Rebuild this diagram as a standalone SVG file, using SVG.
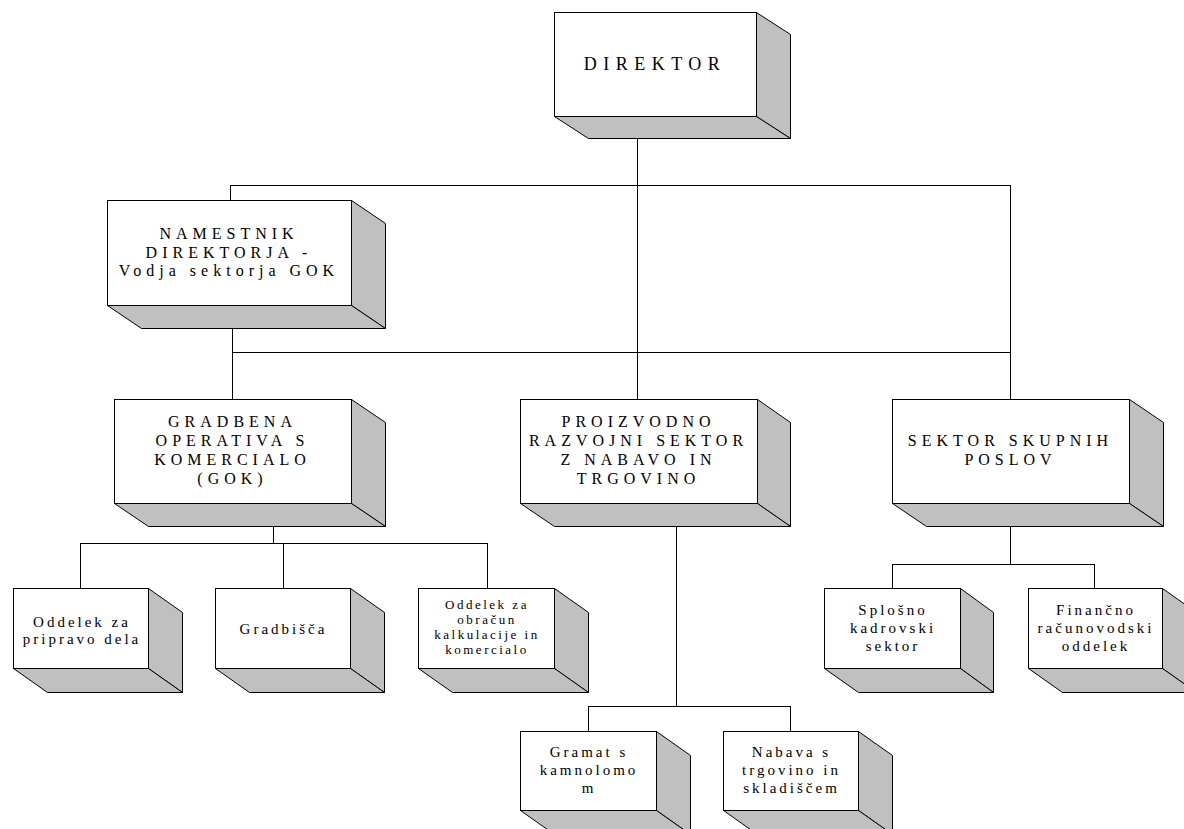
<svg xmlns="http://www.w3.org/2000/svg" width="1184" height="829" viewBox="0 0 1184 829">
<style>
.front{fill:#ffffff;stroke:#000;stroke-width:1}
.shade{fill:#c0c0c0;stroke:#000;stroke-width:1;stroke-linejoin:miter}
.conn{fill:none;stroke:#000;stroke-width:1}
text{font-family:"Liberation Serif","Times New Roman",serif;fill:#000;text-anchor:middle}
.t18{font-size:18px;letter-spacing:6.5px}
.t16{font-size:16px;letter-spacing:5px}
.t15{font-size:15px;letter-spacing:3px}
.t13{font-size:13px;letter-spacing:2.5px}
</style>
<rect width="1184" height="829" fill="#ffffff"/>
<g id="connectors">
<path class="conn" d="M637.5 138V399"/>
<path class="conn" d="M230.5 185.5H1010.5"/>
<path class="conn" d="M230.5 185V200"/>
<path class="conn" d="M232.5 352.5H1010.5"/>
<path class="conn" d="M232.5 328V399"/>
<path class="conn" d="M1010.5 185V399"/>
<path class="conn" d="M273.5 527V543.5"/>
<path class="conn" d="M80.5 543.5H487.5"/>
<path class="conn" d="M80.5 543V588M283.5 543V588M487.5 543V588"/>
<path class="conn" d="M676.5 527V706.5"/>
<path class="conn" d="M588.5 706.5H790.5"/>
<path class="conn" d="M588.5 706V731M790.5 706V731"/>
<path class="conn" d="M1010.5 527V564.5"/>
<path class="conn" d="M892.5 564.5H1094.5"/>
<path class="conn" d="M892.5 564V588M1094.5 564V588"/>
</g>
<g id="direktor">
<polygon class="shade" points="756.5,12.5 790.5,34.5 790.5,138.5 756.5,116.5"/>
<polygon class="shade" points="554.5,116.5 756.5,116.5 790.5,138.5 588.5,138.5"/>
<rect class="front" x="554.5" y="12.5" width="202" height="104"/>
<text class="t18" x="655" y="70">DIREKTOR</text>
</g>
<g id="namestnik">
<polygon class="shade" points="351.5,200.5 385.5,223.5 385.5,328.5 351.5,305.5"/>
<polygon class="shade" points="107.5,305.5 351.5,305.5 385.5,328.5 141.5,328.5"/>
<rect class="front" x="107.5" y="200.5" width="244" height="105"/>
<text class="t16" x="229" y="239">NAMESTNIK</text>
<text class="t16" x="229" y="257.5">DIREKTORJA -</text>
<text class="t16" x="229" y="276">Vodja sektorja GOK</text>
</g>
<g id="gok">
<polygon class="shade" points="351.5,399.5 385.5,422.5 385.5,526.5 351.5,503.5"/>
<polygon class="shade" points="114.5,503.5 351.5,503.5 385.5,526.5 148.5,526.5"/>
<rect class="front" x="114.5" y="399.5" width="237" height="104"/>
<text class="t16" x="232.5" y="427">GRADBENA</text>
<text class="t16" x="232.5" y="446">OPERATIVA S</text>
<text class="t16" x="232.5" y="465">KOMERCIALO</text>
<text class="t16" x="232.5" y="484">(GOK)</text>
</g>
<g id="proizvodno">
<polygon class="shade" points="757.5,399.5 790.5,422.5 790.5,526.5 757.5,503.5"/>
<polygon class="shade" points="520.5,503.5 757.5,503.5 790.5,526.5 554.5,526.5"/>
<rect class="front" x="520.5" y="399.5" width="237" height="104"/>
<text class="t16" x="638.5" y="427">PROIZVODNO</text>
<text class="t16" x="638.5" y="446">RAZVOJNI SEKTOR</text>
<text class="t16" x="638.5" y="465">Z NABAVO IN</text>
<text class="t16" x="638.5" y="484">TRGOVINO</text>
</g>
<g id="sektor">
<polygon class="shade" points="1129.5,399.5 1163.5,422.5 1163.5,526.5 1129.5,503.5"/>
<polygon class="shade" points="892.5,503.5 1129.5,503.5 1163.5,526.5 926.5,526.5"/>
<rect class="front" x="892.5" y="399.5" width="237" height="104"/>
<text class="t16" x="1010.5" y="446">SEKTOR SKUPNIH</text>
<text class="t16" x="1010.5" y="465">POSLOV</text>
</g>
<g id="oddelek-priprava">
<polygon class="shade" points="148.5,588.5 182.5,612.5 182.5,692.5 148.5,668.5"/>
<polygon class="shade" points="13.5,668.5 148.5,668.5 182.5,692.5 47.5,692.5"/>
<rect class="front" x="13.5" y="588.5" width="135" height="80"/>
<text class="t15" x="82" y="627">Oddelek za</text>
<text class="t15" x="82" y="644">pripravo dela</text>
</g>
<g id="gradbisca">
<polygon class="shade" points="350.5,588.5 384.5,612.5 384.5,692.5 350.5,668.5"/>
<polygon class="shade" points="215.5,668.5 350.5,668.5 384.5,692.5 249.5,692.5"/>
<rect class="front" x="215.5" y="588.5" width="135" height="80"/>
<text class="t15" x="283.5" y="634">Gradbišča</text>
</g>
<g id="oddelek-obracun">
<polygon class="shade" points="554.5,588.5 588.5,612.5 588.5,692.5 554.5,668.5"/>
<polygon class="shade" points="418.5,668.5 554.5,668.5 588.5,692.5 452.5,692.5"/>
<rect class="front" x="418.5" y="588.5" width="136" height="80"/>
<text class="t13" x="487" y="609">Oddelek za</text>
<text class="t13" x="487" y="624">obračun</text>
<text class="t13" x="487" y="639">kalkulacije in</text>
<text class="t13" x="487" y="654">komercialo</text>
</g>
<g id="splosno">
<polygon class="shade" points="960.5,588.5 993.5,612.5 993.5,692.5 960.5,668.5"/>
<polygon class="shade" points="824.5,668.5 960.5,668.5 993.5,692.5 858.5,692.5"/>
<rect class="front" x="824.5" y="588.5" width="136" height="80"/>
<text class="t15" x="893" y="615">Splošno</text>
<text class="t15" x="893" y="633">kadrovski</text>
<text class="t15" x="893" y="651">sektor</text>
</g>
<g id="financno">
<polygon class="shade" points="1162.5,588.5 1196.5,612.5 1196.5,692.5 1162.5,668.5"/>
<polygon class="shade" points="1028.5,668.5 1162.5,668.5 1196.5,692.5 1062.5,692.5"/>
<rect class="front" x="1028.5" y="588.5" width="134" height="80"/>
<text class="t15" x="1096" y="615">Finančno</text>
<text class="t15" x="1096" y="633">računovodski</text>
<text class="t15" x="1096" y="651">oddelek</text>
</g>
<g id="gramat">
<polygon class="shade" points="656.5,731.5 690.5,755.5 690.5,834.5 656.5,810.5"/>
<polygon class="shade" points="520.5,810.5 656.5,810.5 690.5,834.5 554.5,834.5"/>
<rect class="front" x="520.5" y="731.5" width="136" height="79"/>
<text class="t15" x="589" y="757">Gramat s</text>
<text class="t15" x="589" y="775">kamnolomo</text>
<text class="t15" x="589" y="793">m</text>
</g>
<g id="nabava">
<polygon class="shade" points="858.5,731.5 892.5,755.5 892.5,834.5 858.5,810.5"/>
<polygon class="shade" points="723.5,810.5 858.5,810.5 892.5,834.5 757.5,834.5"/>
<rect class="front" x="723.5" y="731.5" width="135" height="79"/>
<text class="t15" x="791.5" y="757">Nabava s</text>
<text class="t15" x="791.5" y="775">trgovino in</text>
<text class="t15" x="791.5" y="793">skladiščem</text>
</g>
</svg>
